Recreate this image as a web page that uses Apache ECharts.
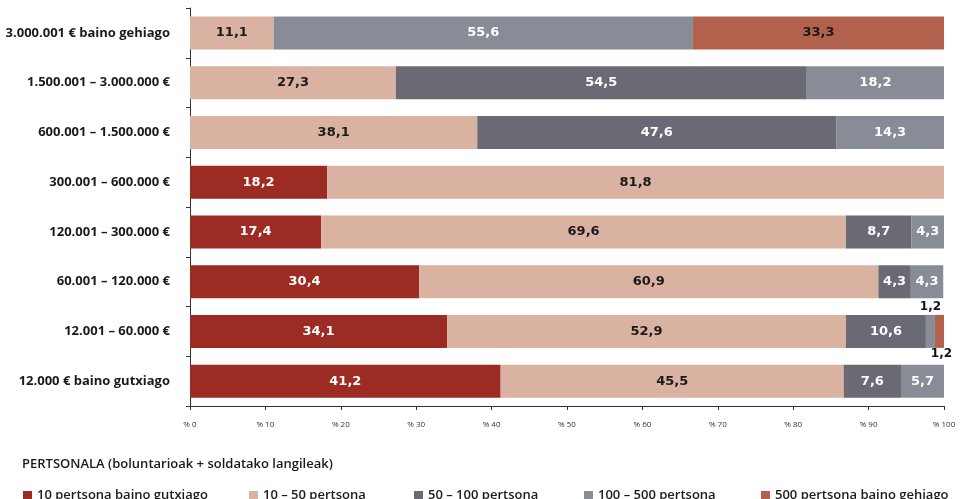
<!DOCTYPE html>
<html>
<head>
<meta charset="utf-8">
<script src="https://cdn.jsdelivr.net/npm/echarts@6/dist/echarts.min.js"></script>
<style>
  html, body { margin: 0; padding: 0; background: #fff; }
  #chart { width: 960px; height: 499px; }
</style>
</head>
<body>
<div id="chart"></div>
<script>
// categories from bottom to top
var categories = [
  '12.000 € baino gutxiago',
  '12.001 – 60.000 €',
  '60.001 – 120.000 €',
  '120.001 – 300.000 €',
  '300.001 – 600.000 €',
  '600.001 – 1.500.000 €',
  '1.500.001 – 3.000.000 €',
  '3.000.001 € baino gehiago'
];
var seriesNames = [
  '10 pertsona baino gutxiago',
  '10 – 50 pertsona',
  '50 – 100 pertsona',
  '100 – 500 pertsona',
  '500 pertsona baino gehiago'
];
var lt10 = [41.2, 34.1, 30.4, 17.4, 18.2, null, null, null];
var s10to50 = [45.5, 52.9, 60.9, 69.6, 81.8, 38.1, 27.3, 11.1];
var s50to100 = [7.6, 10.6, 4.3, 8.7, null, 47.6, 54.5, null];
var s100to500 = [5.7, 1.2, 4.3, 4.3, null, 14.3, 18.2, 55.6];
var gt500 = [null, 1.2, null, null, null, null, null, 33.3];
var xTicks = [0, 10, 20, 30, 40, 50, 60, 70, 80, 90, 100];

var colors = ['#9b2b23', '#d9b2a1', '#696a73', '#878c96', '#b2624c'];
var labelColors = ['#fff', '#1a1a1a', '#fff', '#fff', '#1a1a1a'];
var allData = [lt10, s10to50, s50to100, s100to500, gt500];
var legendLeft = [18, 244, 409, 579, 756];

var chart = echarts.init(document.getElementById('chart'));

function fmt(p) {
  return String(p.value).replace('.', ',');
}

var series = allData.map(function (arr, i) {
  return {
    name: seriesNames[i],
    type: 'bar',
    stack: 'total',
    barWidth: 33,
    itemStyle: { color: colors[i] },
    label: {
      show: true,
      position: 'inside',
      color: labelColors[i],
      fontFamily: 'DejaVu Sans',
      fontWeight: 'bold',
      fontSize: 13,
      formatter: fmt
    },
    data: arr.map(function (v, j) {
      // the two thin 1,2 slices carry their labels outside the bar
      if (v !== null && v < 2) {
        return {
          value: v,
          label: {
            position: i === 3 ? 'top' : 'bottom',
            color: '#111',
            fontSize: 12,
            distance: i === 3 ? 2 : 0,
            offset: i === 3 ? [0, 0] : [2, 0]
          }
        };
      }
      return v;
    })
  };
});

var legends = seriesNames.map(function (name, i) {
  return {
    left: legendLeft[i],
    top: 484,
    itemWidth: 9,
    itemHeight: 9,
    icon: 'rect',
    textStyle: { fontFamily: 'Open Sans', fontWeight: 600, fontSize: 13, color: '#1a1a1a' },
    data: [name]
  };
});

chart.setOption({
  animation: false,
  color: colors,
  grid: { left: 190, right: 16, top: 8, bottom: 93 },
  title: {
    text: 'PERTSONALA (boluntarioak + soldatako langileak)',
    left: 17,
    top: 453,
    textStyle: { fontFamily: 'Open Sans', fontWeight: 600, fontSize: 13, color: '#1a1a1a' }
  },
  legend: legends,
  xAxis: {
    type: 'value',
    min: 0,
    max: 100,
    interval: 10,
    splitLine: { show: false },
    axisLine: { show: true, lineStyle: { color: '#333', width: 1 } },
    axisTick: { show: true, length: 4, lineStyle: { color: '#333' } },
    axisLabel: {
      margin: 15,
      fontFamily: 'Open Sans',
      fontSize: 8,
      color: '#333',
      formatter: function (v) { return xTicks.indexOf(v) >= 0 ? '% ' + v : ''; }
    }
  },
  yAxis: {
    type: 'category',
    data: categories,
    axisLine: { show: true, lineStyle: { color: '#333', width: 1 } },
    axisTick: { show: true, length: 4, lineStyle: { color: '#333' } },
    axisLabel: {
      margin: 20,
      fontFamily: 'Open Sans',
      fontWeight: 'bold',
      fontSize: 13,
      color: '#1a1a1a'
    }
  },
  series: series
});
</script>
</body>
</html>
